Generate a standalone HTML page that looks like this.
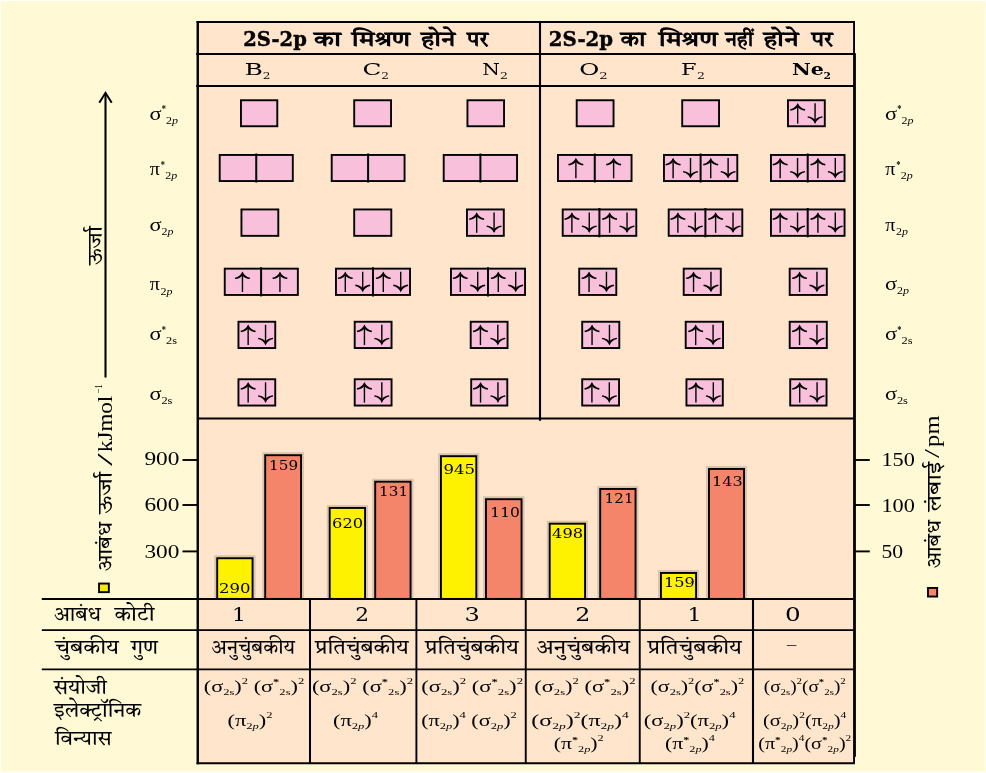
<!DOCTYPE html>
<html lang="hi"><head><meta charset="utf-8"><title>आण्विक कक्षक आरेख</title>
<style>html,body{margin:0;padding:0;background:#fffad5;}svg{display:block;}text{fill:#000000;}</style></head><body>
<svg width="986" height="773" viewBox="0 0 986 773">
<defs>
<g id="up"><path d="M0,-0.3 C1.2,3.0 4.0,5.2 7.6,6.0 L7.2,7.4 C4.3,7.0 1.6,5.9 0,3.7 C-1.6,5.9 -4.3,7.0 -7.2,7.4 L-7.6,6.0 C-4.0,5.2 -1.2,3.0 0,-0.3 Z" fill="#000000"/><line x1="0" y1="1" x2="0" y2="20.3" stroke="#000000" stroke-width="1.4"/></g>
<g id="dn"><g transform="translate(0,20.3) scale(1,-1)"><path d="M0,-0.3 C1.2,3.0 4.0,5.2 7.6,6.0 L7.2,7.4 C4.3,7.0 1.6,5.9 0,3.7 C-1.6,5.9 -4.3,7.0 -7.2,7.4 L-7.6,6.0 C-4.0,5.2 -1.2,3.0 0,-0.3 Z" fill="#000000"/><line x1="0" y1="1" x2="0" y2="20.3" stroke="#000000" stroke-width="1.4"/></g></g>
</defs>
<rect x="0" y="0" width="986" height="773" fill="#ffffff"/>
<rect x="0.7" y="1" width="984.7" height="770.8" fill="#fffad5"/>
<rect x="197.75" y="21.95" width="656.3" height="741.3" fill="#ffe5cb"/>
<rect x="240.95" y="100.25" width="36.35" height="26.00" fill="#f8c0da" stroke="#000000" stroke-width="1.9"/>
<rect x="354.20" y="100.25" width="36.85" height="26.00" fill="#f8c0da" stroke="#000000" stroke-width="1.9"/>
<rect x="467.45" y="100.25" width="36.60" height="26.00" fill="#f8c0da" stroke="#000000" stroke-width="1.9"/>
<rect x="576.70" y="100.25" width="36.85" height="26.00" fill="#f8c0da" stroke="#000000" stroke-width="1.9"/>
<rect x="682.20" y="100.25" width="36.85" height="26.00" fill="#f8c0da" stroke="#000000" stroke-width="1.9"/>
<rect x="787.95" y="100.25" width="36.85" height="26.00" fill="#f8c0da" stroke="#000000" stroke-width="1.9"/>
<use href="#up" x="797.67" y="103.30"/>
<use href="#dn" x="815.08" y="103.30"/>
<rect x="219.70" y="154.95" width="73.10" height="26.10" fill="#f8c0da" stroke="#000000" stroke-width="1.9"/>
<line x1="256.25" y1="153.5" x2="256.25" y2="182.5" stroke="#000000" stroke-width="2"/>
<rect x="331.70" y="154.95" width="72.85" height="26.10" fill="#f8c0da" stroke="#000000" stroke-width="1.9"/>
<line x1="368.1" y1="153.5" x2="368.1" y2="182.5" stroke="#000000" stroke-width="2"/>
<rect x="443.70" y="154.95" width="73.35" height="26.10" fill="#f8c0da" stroke="#000000" stroke-width="1.9"/>
<line x1="480.4" y1="153.5" x2="480.4" y2="182.5" stroke="#000000" stroke-width="2"/>
<rect x="557.95" y="154.95" width="73.60" height="26.10" fill="#f8c0da" stroke="#000000" stroke-width="1.9"/>
<line x1="594.75" y1="153.5" x2="594.75" y2="182.5" stroke="#000000" stroke-width="2"/>
<use href="#up" x="575.88" y="158.00"/>
<use href="#up" x="613.62" y="158.00"/>
<rect x="663.95" y="154.95" width="73.35" height="26.10" fill="#f8c0da" stroke="#000000" stroke-width="1.9"/>
<line x1="700.6" y1="153.5" x2="700.6" y2="182.5" stroke="#000000" stroke-width="2"/>
<use href="#up" x="673.10" y="158.00"/>
<use href="#dn" x="690.50" y="158.00"/>
<use href="#up" x="710.72" y="158.00"/>
<use href="#dn" x="728.12" y="158.00"/>
<rect x="770.95" y="154.95" width="73.60" height="26.10" fill="#f8c0da" stroke="#000000" stroke-width="1.9"/>
<line x1="807.7" y1="153.5" x2="807.7" y2="182.5" stroke="#000000" stroke-width="2"/>
<use href="#up" x="780.15" y="158.00"/>
<use href="#dn" x="797.55" y="158.00"/>
<use href="#up" x="817.90" y="158.00"/>
<use href="#dn" x="835.30" y="158.00"/>
<rect x="241.45" y="209.45" width="36.85" height="26.40" fill="#f8c0da" stroke="#000000" stroke-width="1.9"/>
<rect x="354.20" y="209.45" width="37.10" height="26.40" fill="#f8c0da" stroke="#000000" stroke-width="1.9"/>
<rect x="466.95" y="209.45" width="36.85" height="26.40" fill="#f8c0da" stroke="#000000" stroke-width="1.9"/>
<use href="#up" x="476.68" y="212.50"/>
<use href="#dn" x="494.07" y="212.50"/>
<rect x="562.70" y="209.45" width="73.60" height="26.40" fill="#f8c0da" stroke="#000000" stroke-width="1.9"/>
<line x1="599.4" y1="208.0" x2="599.4" y2="237.3" stroke="#000000" stroke-width="2"/>
<use href="#up" x="571.88" y="212.50"/>
<use href="#dn" x="589.28" y="212.50"/>
<use href="#up" x="609.62" y="212.50"/>
<use href="#dn" x="627.03" y="212.50"/>
<rect x="668.70" y="209.45" width="73.60" height="26.40" fill="#f8c0da" stroke="#000000" stroke-width="1.9"/>
<line x1="705.4" y1="208.0" x2="705.4" y2="237.3" stroke="#000000" stroke-width="2"/>
<use href="#up" x="677.88" y="212.50"/>
<use href="#dn" x="695.28" y="212.50"/>
<use href="#up" x="715.62" y="212.50"/>
<use href="#dn" x="733.03" y="212.50"/>
<rect x="770.95" y="209.45" width="73.60" height="26.40" fill="#f8c0da" stroke="#000000" stroke-width="1.9"/>
<line x1="807.7" y1="208.0" x2="807.7" y2="237.3" stroke="#000000" stroke-width="2"/>
<use href="#up" x="780.15" y="212.50"/>
<use href="#dn" x="797.55" y="212.50"/>
<use href="#up" x="817.90" y="212.50"/>
<use href="#dn" x="835.30" y="212.50"/>
<rect x="224.75" y="268.65" width="73.10" height="26.30" fill="#f8c0da" stroke="#000000" stroke-width="1.9"/>
<line x1="261.1" y1="267.2" x2="261.1" y2="296.4" stroke="#000000" stroke-width="2"/>
<use href="#up" x="242.45" y="271.70"/>
<use href="#up" x="279.95" y="271.70"/>
<rect x="335.95" y="268.65" width="74.10" height="26.30" fill="#f8c0da" stroke="#000000" stroke-width="1.9"/>
<line x1="373" y1="267.2" x2="373" y2="296.4" stroke="#000000" stroke-width="2"/>
<use href="#up" x="345.30" y="271.70"/>
<use href="#dn" x="362.70" y="271.70"/>
<use href="#up" x="383.30" y="271.70"/>
<use href="#dn" x="400.70" y="271.70"/>
<rect x="450.95" y="268.65" width="74.10" height="26.30" fill="#f8c0da" stroke="#000000" stroke-width="1.9"/>
<line x1="488" y1="267.2" x2="488" y2="296.4" stroke="#000000" stroke-width="2"/>
<use href="#up" x="460.30" y="271.70"/>
<use href="#dn" x="477.70" y="271.70"/>
<use href="#up" x="498.30" y="271.70"/>
<use href="#dn" x="515.70" y="271.70"/>
<rect x="579.20" y="268.65" width="37.10" height="26.30" fill="#f8c0da" stroke="#000000" stroke-width="1.9"/>
<use href="#up" x="589.05" y="271.70"/>
<use href="#dn" x="606.45" y="271.70"/>
<rect x="683.70" y="268.65" width="37.10" height="26.30" fill="#f8c0da" stroke="#000000" stroke-width="1.9"/>
<use href="#up" x="693.55" y="271.70"/>
<use href="#dn" x="710.95" y="271.70"/>
<rect x="789.70" y="268.65" width="37.10" height="26.30" fill="#f8c0da" stroke="#000000" stroke-width="1.9"/>
<use href="#up" x="799.55" y="271.70"/>
<use href="#dn" x="816.95" y="271.70"/>
<rect x="238.45" y="321.75" width="36.80" height="26.30" fill="#f8c0da" stroke="#000000" stroke-width="1.9"/>
<use href="#up" x="248.15" y="324.80"/>
<use href="#dn" x="265.55" y="324.80"/>
<rect x="354.70" y="321.75" width="36.85" height="26.30" fill="#f8c0da" stroke="#000000" stroke-width="1.9"/>
<use href="#up" x="364.43" y="324.80"/>
<use href="#dn" x="381.82" y="324.80"/>
<rect x="470.70" y="321.75" width="36.85" height="26.30" fill="#f8c0da" stroke="#000000" stroke-width="1.9"/>
<use href="#up" x="480.43" y="324.80"/>
<use href="#dn" x="497.82" y="324.80"/>
<rect x="582.20" y="321.75" width="37.10" height="26.30" fill="#f8c0da" stroke="#000000" stroke-width="1.9"/>
<use href="#up" x="592.05" y="324.80"/>
<use href="#dn" x="609.45" y="324.80"/>
<rect x="685.70" y="321.75" width="37.35" height="26.30" fill="#f8c0da" stroke="#000000" stroke-width="1.9"/>
<use href="#up" x="695.67" y="324.80"/>
<use href="#dn" x="713.08" y="324.80"/>
<rect x="789.70" y="321.75" width="37.10" height="26.30" fill="#f8c0da" stroke="#000000" stroke-width="1.9"/>
<use href="#up" x="799.55" y="324.80"/>
<use href="#dn" x="816.95" y="324.80"/>
<rect x="238.45" y="379.25" width="36.80" height="26.30" fill="#f8c0da" stroke="#000000" stroke-width="1.9"/>
<use href="#up" x="248.15" y="382.30"/>
<use href="#dn" x="265.55" y="382.30"/>
<rect x="354.70" y="379.25" width="36.85" height="26.30" fill="#f8c0da" stroke="#000000" stroke-width="1.9"/>
<use href="#up" x="364.43" y="382.30"/>
<use href="#dn" x="381.82" y="382.30"/>
<rect x="471.20" y="379.25" width="36.10" height="26.30" fill="#f8c0da" stroke="#000000" stroke-width="1.9"/>
<use href="#up" x="480.55" y="382.30"/>
<use href="#dn" x="497.95" y="382.30"/>
<rect x="582.20" y="379.25" width="36.85" height="26.30" fill="#f8c0da" stroke="#000000" stroke-width="1.9"/>
<use href="#up" x="591.92" y="382.30"/>
<use href="#dn" x="609.33" y="382.30"/>
<rect x="686.45" y="379.25" width="36.35" height="26.30" fill="#f8c0da" stroke="#000000" stroke-width="1.9"/>
<use href="#up" x="695.92" y="382.30"/>
<use href="#dn" x="713.33" y="382.30"/>
<rect x="790.20" y="379.25" width="36.35" height="26.30" fill="#f8c0da" stroke="#000000" stroke-width="1.9"/>
<use href="#up" x="799.67" y="382.30"/>
<use href="#dn" x="817.08" y="382.30"/>
<path d="M217.25,597.90 L217.25,558.30 L252.50,558.30 L252.50,597.90" fill="none" stroke="#2a2018" stroke-opacity="0.17" stroke-width="6.0"/>
<rect x="217.20" y="558.25" width="35.35" height="40.65" fill="#fff200" stroke="#000000" stroke-width="1.9"/>
<path d="M265.25,597.90 L265.25,455.25 L301.00,455.25 L301.00,597.90" fill="none" stroke="#2a2018" stroke-opacity="0.17" stroke-width="6.0"/>
<rect x="265.20" y="455.20" width="35.85" height="143.70" fill="#f4856a" stroke="#000000" stroke-width="1.9"/>
<path d="M329.75,597.90 L329.75,508.00 L365.00,508.00 L365.00,597.90" fill="none" stroke="#2a2018" stroke-opacity="0.17" stroke-width="6.0"/>
<rect x="329.70" y="507.95" width="35.35" height="90.95" fill="#fff200" stroke="#000000" stroke-width="1.9"/>
<path d="M375.25,597.90 L375.25,481.75 L410.50,481.75 L410.50,597.90" fill="none" stroke="#2a2018" stroke-opacity="0.17" stroke-width="6.0"/>
<rect x="375.20" y="481.70" width="35.35" height="117.20" fill="#f4856a" stroke="#000000" stroke-width="1.9"/>
<path d="M441.00,597.90 L441.00,456.25 L476.25,456.25 L476.25,597.90" fill="none" stroke="#2a2018" stroke-opacity="0.17" stroke-width="6.0"/>
<rect x="440.95" y="456.20" width="35.35" height="142.70" fill="#fff200" stroke="#000000" stroke-width="1.9"/>
<path d="M486.00,597.90 L486.00,499.25 L521.50,499.25 L521.50,597.90" fill="none" stroke="#2a2018" stroke-opacity="0.17" stroke-width="6.0"/>
<rect x="485.95" y="499.20" width="35.60" height="99.70" fill="#f4856a" stroke="#000000" stroke-width="1.9"/>
<path d="M549.75,597.90 L549.75,523.75 L585.00,523.75 L585.00,597.90" fill="none" stroke="#2a2018" stroke-opacity="0.17" stroke-width="6.0"/>
<rect x="549.70" y="523.70" width="35.35" height="75.20" fill="#fff200" stroke="#000000" stroke-width="1.9"/>
<path d="M600.25,597.90 L600.25,489.00 L635.50,489.00 L635.50,597.90" fill="none" stroke="#2a2018" stroke-opacity="0.17" stroke-width="6.0"/>
<rect x="600.20" y="488.95" width="35.35" height="109.95" fill="#f4856a" stroke="#000000" stroke-width="1.9"/>
<path d="M661.00,597.90 L661.00,573.00 L696.00,573.00 L696.00,597.90" fill="none" stroke="#2a2018" stroke-opacity="0.17" stroke-width="6.0"/>
<rect x="660.95" y="572.95" width="35.10" height="25.95" fill="#fff200" stroke="#000000" stroke-width="1.9"/>
<path d="M709.00,597.90 L709.00,469.00 L744.00,469.00 L744.00,597.90" fill="none" stroke="#2a2018" stroke-opacity="0.17" stroke-width="6.0"/>
<rect x="708.95" y="468.95" width="35.10" height="129.95" fill="#f4856a" stroke="#000000" stroke-width="1.9"/>
<text x="219.10" y="593.40" font-size="12.7" font-family="'DejaVu Serif','Liberation Serif',serif" textLength="31.50" lengthAdjust="spacingAndGlyphs">290</text>
<text x="269.10" y="469.60" font-size="12.7" font-family="'DejaVu Serif','Liberation Serif',serif" textLength="29.00" lengthAdjust="spacingAndGlyphs">159</text>
<text x="332.10" y="527.60" font-size="12.7" font-family="'DejaVu Serif','Liberation Serif',serif" textLength="31.00" lengthAdjust="spacingAndGlyphs">620</text>
<text x="379.10" y="496.40" font-size="12.7" font-family="'DejaVu Serif','Liberation Serif',serif" textLength="29.00" lengthAdjust="spacingAndGlyphs">131</text>
<text x="443.60" y="473.85" font-size="12.7" font-family="'DejaVu Serif','Liberation Serif',serif" textLength="31.50" lengthAdjust="spacingAndGlyphs">945</text>
<text x="490.35" y="517.10" font-size="12.7" font-family="'DejaVu Serif','Liberation Serif',serif" textLength="29.50" lengthAdjust="spacingAndGlyphs">110</text>
<text x="552.10" y="537.60" font-size="12.7" font-family="'DejaVu Serif','Liberation Serif',serif" textLength="31.00" lengthAdjust="spacingAndGlyphs">498</text>
<text x="604.60" y="502.60" font-size="12.7" font-family="'DejaVu Serif','Liberation Serif',serif" textLength="29.00" lengthAdjust="spacingAndGlyphs">121</text>
<text x="664.10" y="587.10" font-size="12.7" font-family="'DejaVu Serif','Liberation Serif',serif" textLength="30.75" lengthAdjust="spacingAndGlyphs">159</text>
<text x="712.10" y="486.35" font-size="12.7" font-family="'DejaVu Serif','Liberation Serif',serif" textLength="30.50" lengthAdjust="spacingAndGlyphs">143</text>
<line x1="197.75" y1="20.95" x2="197.75" y2="764.25" stroke="#000000" stroke-width="2.4"/>
<line x1="196.55" y1="21.95" x2="855.0" y2="21.95" stroke="#000000" stroke-width="1.9"/>
<line x1="196.55" y1="763.25" x2="854.9" y2="763.25" stroke="#000000" stroke-width="2.0"/>
<line x1="854.05" y1="21.95" x2="854.05" y2="763.25" stroke="#000000" stroke-width="1.9"/>
<rect x="854.9" y="53.2" width="1.0" height="703.6" fill="#000000"/>
<line x1="196.25" y1="53.9" x2="854.05" y2="53.9" stroke="#000000" stroke-width="2.0"/>
<line x1="196.25" y1="86.0" x2="854.05" y2="86.0" stroke="#000000" stroke-width="1.9"/>
<line x1="197.75" y1="418.4" x2="854.05" y2="418.4" stroke="#000000" stroke-width="2.0"/>
<line x1="41.8" y1="598.9" x2="854.05" y2="598.9" stroke="#000000" stroke-width="2.0"/>
<line x1="41.8" y1="630.2" x2="854.05" y2="630.2" stroke="#000000" stroke-width="1.8"/>
<line x1="41.8" y1="669.3" x2="854.05" y2="669.3" stroke="#000000" stroke-width="1.8"/>
<line x1="540.0" y1="21.95" x2="540.0" y2="420.7" stroke="#000000" stroke-width="2.1"/>
<line x1="310.0" y1="598.9" x2="310.0" y2="763.25" stroke="#000000" stroke-width="2.0"/>
<line x1="416.4" y1="598.9" x2="416.4" y2="763.25" stroke="#000000" stroke-width="1.9"/>
<line x1="525.75" y1="598.9" x2="525.75" y2="763.25" stroke="#000000" stroke-width="1.9"/>
<line x1="639.75" y1="598.9" x2="639.75" y2="763.25" stroke="#000000" stroke-width="1.9"/>
<line x1="753.0" y1="598.9" x2="753.0" y2="763.25" stroke="#000000" stroke-width="2.1"/>
<line x1="182.5" y1="460.0" x2="197.75" y2="460.0" stroke="#000000" stroke-width="1.9"/>
<line x1="854.05" y1="460.0" x2="869.8" y2="460.0" stroke="#000000" stroke-width="1.9"/>
<line x1="182.5" y1="505.0" x2="197.75" y2="505.0" stroke="#000000" stroke-width="1.9"/>
<line x1="854.05" y1="505.0" x2="869.8" y2="505.0" stroke="#000000" stroke-width="1.9"/>
<line x1="182.5" y1="551.4" x2="197.75" y2="551.4" stroke="#000000" stroke-width="1.9"/>
<line x1="854.05" y1="551.4" x2="869.8" y2="551.4" stroke="#000000" stroke-width="1.9"/>
<line x1="105.5" y1="93.5" x2="105.5" y2="377.4" stroke="#000000" stroke-width="2.1"/>
<path d="M99.3,102.8 L105.5,92.8 L111.7,102.8" fill="none" stroke="#000000" stroke-width="2.0" stroke-linejoin="miter"/>
<text x="243.20" y="45.80" font-size="20" font-family="'DejaVu Serif','Liberation Serif',serif" font-weight="bold" textLength="63.60" lengthAdjust="spacingAndGlyphs" stroke="#000000" stroke-width="0.45">2S-2p</text>
<text x="314.00" y="46.40" font-size="21" font-family="'Liberation Serif','Tiro Devanagari Hindi','Noto Serif Devanagari','Lohit Devanagari','FreeSerif',serif" font-weight="bold" textLength="27.00" lengthAdjust="spacingAndGlyphs">का</text>
<text x="351.80" y="46.40" font-size="21" font-family="'Liberation Serif','Tiro Devanagari Hindi','Noto Serif Devanagari','Lohit Devanagari','FreeSerif',serif" font-weight="bold" textLength="58.40" lengthAdjust="spacingAndGlyphs">मिश्रण</text>
<text x="421.00" y="46.40" font-size="21" font-family="'Liberation Serif','Tiro Devanagari Hindi','Noto Serif Devanagari','Lohit Devanagari','FreeSerif',serif" font-weight="bold" textLength="34.20" lengthAdjust="spacingAndGlyphs">होने</text>
<text x="467.00" y="46.40" font-size="21" font-family="'Liberation Serif','Tiro Devanagari Hindi','Noto Serif Devanagari','Lohit Devanagari','FreeSerif',serif" font-weight="bold" textLength="21.20" lengthAdjust="spacingAndGlyphs">पर</text>
<text x="548.80" y="45.80" font-size="20" font-family="'DejaVu Serif','Liberation Serif',serif" font-weight="bold" textLength="64.20" lengthAdjust="spacingAndGlyphs" stroke="#000000" stroke-width="0.45">2S-2p</text>
<text x="620.40" y="46.40" font-size="21" font-family="'Liberation Serif','Tiro Devanagari Hindi','Noto Serif Devanagari','Lohit Devanagari','FreeSerif',serif" font-weight="bold" textLength="25.20" lengthAdjust="spacingAndGlyphs">का</text>
<text x="658.80" y="46.40" font-size="21" font-family="'Liberation Serif','Tiro Devanagari Hindi','Noto Serif Devanagari','Lohit Devanagari','FreeSerif',serif" font-weight="bold" textLength="58.80" lengthAdjust="spacingAndGlyphs">मिश्रण</text>
<text x="725.20" y="46.40" font-size="21" font-family="'Liberation Serif','Tiro Devanagari Hindi','Noto Serif Devanagari','Lohit Devanagari','FreeSerif',serif" font-weight="bold" textLength="28.00" lengthAdjust="spacingAndGlyphs">नहीं</text>
<text x="763.40" y="46.40" font-size="21" font-family="'Liberation Serif','Tiro Devanagari Hindi','Noto Serif Devanagari','Lohit Devanagari','FreeSerif',serif" font-weight="bold" textLength="35.20" lengthAdjust="spacingAndGlyphs">होने</text>
<text x="811.40" y="46.40" font-size="21" font-family="'Liberation Serif','Tiro Devanagari Hindi','Noto Serif Devanagari','Lohit Devanagari','FreeSerif',serif" font-weight="bold" textLength="21.40" lengthAdjust="spacingAndGlyphs">पर</text>
<text x="244.40" y="75.30" font-size="17.5" font-family="'DejaVu Serif','Liberation Serif',serif" textLength="18.40" lengthAdjust="spacingAndGlyphs">B</text>
<text x="262.70" y="78.90" font-size="9" font-family="'DejaVu Serif','Liberation Serif',serif" textLength="7.70" lengthAdjust="spacingAndGlyphs">2</text>
<text x="362.60" y="75.30" font-size="17.5" font-family="'DejaVu Serif','Liberation Serif',serif" textLength="18.90" lengthAdjust="spacingAndGlyphs">C</text>
<text x="381.30" y="78.90" font-size="9" font-family="'DejaVu Serif','Liberation Serif',serif" textLength="7.70" lengthAdjust="spacingAndGlyphs">2</text>
<text x="482.20" y="75.30" font-size="17.5" font-family="'DejaVu Serif','Liberation Serif',serif" textLength="17.60" lengthAdjust="spacingAndGlyphs">N</text>
<text x="499.90" y="78.90" font-size="9" font-family="'DejaVu Serif','Liberation Serif',serif" textLength="7.90" lengthAdjust="spacingAndGlyphs">2</text>
<text x="579.30" y="75.30" font-size="17.5" font-family="'DejaVu Serif','Liberation Serif',serif" textLength="20.10" lengthAdjust="spacingAndGlyphs">O</text>
<text x="599.30" y="78.90" font-size="9" font-family="'DejaVu Serif','Liberation Serif',serif" textLength="8.40" lengthAdjust="spacingAndGlyphs">2</text>
<text x="681.00" y="75.30" font-size="17.5" font-family="'DejaVu Serif','Liberation Serif',serif" textLength="15.60" lengthAdjust="spacingAndGlyphs">F</text>
<text x="696.90" y="78.90" font-size="9" font-family="'DejaVu Serif','Liberation Serif',serif" textLength="7.90" lengthAdjust="spacingAndGlyphs">2</text>
<text x="792.00" y="75.30" font-size="17.5" font-family="'DejaVu Serif','Liberation Serif',serif" font-weight="bold" textLength="31.90" lengthAdjust="spacingAndGlyphs">Ne</text>
<text x="823.50" y="78.90" font-size="9" font-family="'DejaVu Serif','Liberation Serif',serif" font-weight="bold" textLength="7.40" lengthAdjust="spacingAndGlyphs">2</text>
<text x="149.60" y="119.60" font-size="18" font-family="'Liberation Serif','DejaVu Serif',serif" textLength="12.10" lengthAdjust="spacingAndGlyphs">σ</text>
<text x="161.70" y="112.40" font-size="10" font-family="'Liberation Serif','DejaVu Serif',serif" font-weight="bold" textLength="4.20" lengthAdjust="spacingAndGlyphs">*</text>
<text x="166.10" y="123.60" font-size="10.5" font-family="'Liberation Serif','DejaVu Serif',serif" textLength="12.0" lengthAdjust="spacingAndGlyphs">2<tspan font-style="italic">p</tspan></text>
<text x="149.70" y="175.00" font-size="18" font-family="'Liberation Serif','DejaVu Serif',serif" textLength="10.10" lengthAdjust="spacingAndGlyphs">π</text>
<text x="160.80" y="167.80" font-size="10" font-family="'Liberation Serif','DejaVu Serif',serif" font-weight="bold" textLength="4.20" lengthAdjust="spacingAndGlyphs">*</text>
<text x="165.20" y="179.00" font-size="10.5" font-family="'Liberation Serif','DejaVu Serif',serif" textLength="12.0" lengthAdjust="spacingAndGlyphs">2<tspan font-style="italic">p</tspan></text>
<text x="149.60" y="230.60" font-size="18" font-family="'Liberation Serif','DejaVu Serif',serif" textLength="12.10" lengthAdjust="spacingAndGlyphs">σ</text>
<text x="161.40" y="235.00" font-size="10.5" font-family="'Liberation Serif','DejaVu Serif',serif" textLength="12.0" lengthAdjust="spacingAndGlyphs">2<tspan font-style="italic">p</tspan></text>
<text x="149.70" y="290.10" font-size="18" font-family="'Liberation Serif','DejaVu Serif',serif" textLength="10.10" lengthAdjust="spacingAndGlyphs">π</text>
<text x="160.50" y="294.50" font-size="10.5" font-family="'Liberation Serif','DejaVu Serif',serif" textLength="12.0" lengthAdjust="spacingAndGlyphs">2<tspan font-style="italic">p</tspan></text>
<text x="149.60" y="340.10" font-size="18" font-family="'Liberation Serif','DejaVu Serif',serif" textLength="12.10" lengthAdjust="spacingAndGlyphs">σ</text>
<text x="161.70" y="332.90" font-size="10" font-family="'Liberation Serif','DejaVu Serif',serif" font-weight="bold" textLength="4.20" lengthAdjust="spacingAndGlyphs">*</text>
<text x="166.10" y="344.10" font-size="10.5" font-family="'Liberation Serif','DejaVu Serif',serif" textLength="11.00" lengthAdjust="spacingAndGlyphs">2s</text>
<text x="149.60" y="399.70" font-size="18" font-family="'Liberation Serif','DejaVu Serif',serif" textLength="12.10" lengthAdjust="spacingAndGlyphs">σ</text>
<text x="161.40" y="404.10" font-size="10.5" font-family="'Liberation Serif','DejaVu Serif',serif" textLength="11.00" lengthAdjust="spacingAndGlyphs">2s</text>
<text x="885.10" y="119.60" font-size="18" font-family="'Liberation Serif','DejaVu Serif',serif" textLength="12.10" lengthAdjust="spacingAndGlyphs">σ</text>
<text x="897.20" y="112.40" font-size="10" font-family="'Liberation Serif','DejaVu Serif',serif" font-weight="bold" textLength="4.20" lengthAdjust="spacingAndGlyphs">*</text>
<text x="901.60" y="123.60" font-size="10.5" font-family="'Liberation Serif','DejaVu Serif',serif" textLength="12.0" lengthAdjust="spacingAndGlyphs">2<tspan font-style="italic">p</tspan></text>
<text x="885.20" y="175.00" font-size="18" font-family="'Liberation Serif','DejaVu Serif',serif" textLength="10.10" lengthAdjust="spacingAndGlyphs">π</text>
<text x="896.30" y="167.80" font-size="10" font-family="'Liberation Serif','DejaVu Serif',serif" font-weight="bold" textLength="4.20" lengthAdjust="spacingAndGlyphs">*</text>
<text x="900.70" y="179.00" font-size="10.5" font-family="'Liberation Serif','DejaVu Serif',serif" textLength="12.0" lengthAdjust="spacingAndGlyphs">2<tspan font-style="italic">p</tspan></text>
<text x="885.20" y="230.70" font-size="18" font-family="'Liberation Serif','DejaVu Serif',serif" textLength="10.10" lengthAdjust="spacingAndGlyphs">π</text>
<text x="896.00" y="235.10" font-size="10.5" font-family="'Liberation Serif','DejaVu Serif',serif" textLength="12.0" lengthAdjust="spacingAndGlyphs">2<tspan font-style="italic">p</tspan></text>
<text x="885.10" y="290.00" font-size="18" font-family="'Liberation Serif','DejaVu Serif',serif" textLength="12.10" lengthAdjust="spacingAndGlyphs">σ</text>
<text x="896.90" y="294.40" font-size="10.5" font-family="'Liberation Serif','DejaVu Serif',serif" textLength="12.0" lengthAdjust="spacingAndGlyphs">2<tspan font-style="italic">p</tspan></text>
<text x="885.10" y="340.20" font-size="18" font-family="'Liberation Serif','DejaVu Serif',serif" textLength="12.10" lengthAdjust="spacingAndGlyphs">σ</text>
<text x="897.20" y="333.00" font-size="10" font-family="'Liberation Serif','DejaVu Serif',serif" font-weight="bold" textLength="4.20" lengthAdjust="spacingAndGlyphs">*</text>
<text x="901.60" y="344.20" font-size="10.5" font-family="'Liberation Serif','DejaVu Serif',serif" textLength="11.00" lengthAdjust="spacingAndGlyphs">2s</text>
<text x="885.10" y="399.60" font-size="18" font-family="'Liberation Serif','DejaVu Serif',serif" textLength="12.10" lengthAdjust="spacingAndGlyphs">σ</text>
<text x="896.90" y="404.00" font-size="10.5" font-family="'Liberation Serif','DejaVu Serif',serif" textLength="11.00" lengthAdjust="spacingAndGlyphs">2s</text>
<text x="144.40" y="464.90" font-size="19" font-family="'Liberation Serif','DejaVu Serif',serif" textLength="35.00" lengthAdjust="spacingAndGlyphs">900</text>
<text x="144.40" y="511.30" font-size="19" font-family="'Liberation Serif','DejaVu Serif',serif" textLength="35.00" lengthAdjust="spacingAndGlyphs">600</text>
<text x="144.40" y="557.90" font-size="19" font-family="'Liberation Serif','DejaVu Serif',serif" textLength="35.00" lengthAdjust="spacingAndGlyphs">300</text>
<text x="881.40" y="465.90" font-size="19" font-family="'Liberation Serif','DejaVu Serif',serif" textLength="33.40" lengthAdjust="spacingAndGlyphs">150</text>
<text x="881.40" y="512.10" font-size="19" font-family="'Liberation Serif','DejaVu Serif',serif" textLength="33.40" lengthAdjust="spacingAndGlyphs">100</text>
<text x="881.40" y="558.30" font-size="19" font-family="'Liberation Serif','DejaVu Serif',serif" textLength="21.60" lengthAdjust="spacingAndGlyphs">50</text>
<g transform="translate(102.3,265.2) rotate(-90)">
<text x="0.00" y="0.00" font-size="20" font-family="'Liberation Serif','Tiro Devanagari Hindi','Noto Serif Devanagari','Lohit Devanagari','FreeSerif',serif" textLength="39.00" lengthAdjust="spacingAndGlyphs">ऊर्जा</text>
</g>
<g transform="translate(111.8,571.5) rotate(-90)">
<text x="0.00" y="0.60" font-size="20" font-family="'Liberation Serif','Tiro Devanagari Hindi','Noto Serif Devanagari','Lohit Devanagari','FreeSerif',serif" textLength="49.70" lengthAdjust="spacingAndGlyphs">आबंध</text>
<text x="57.50" y="0.60" font-size="20" font-family="'Liberation Serif','Tiro Devanagari Hindi','Noto Serif Devanagari','Lohit Devanagari','FreeSerif',serif" textLength="42.20" lengthAdjust="spacingAndGlyphs">ऊर्जा</text>
<text x="105.60" y="0.00" font-size="20" font-family="'Liberation Serif','DejaVu Serif',serif" textLength="12.80" lengthAdjust="spacingAndGlyphs">/</text>
<text x="119.40" y="0.00" font-size="20" font-family="'Liberation Serif','DejaVu Serif',serif" textLength="56.40" lengthAdjust="spacingAndGlyphs">kJmol</text>
<text x="178.30" y="-9.60" font-size="10" font-family="'Liberation Serif','DejaVu Serif',serif" textLength="8.90" lengthAdjust="spacingAndGlyphs">−1</text>
</g>
<rect x="99.05" y="583.55" width="9.8" height="8.6" fill="#f8ea00" stroke="#000000" stroke-width="1.9"/>
<g transform="translate(939.3,568.5) rotate(-90)">
<text x="0.00" y="1.80" font-size="20" font-family="'Liberation Serif','Tiro Devanagari Hindi','Noto Serif Devanagari','Lohit Devanagari','FreeSerif',serif" textLength="48.60" lengthAdjust="spacingAndGlyphs">आबंध</text>
<text x="57.00" y="1.80" font-size="20" font-family="'Liberation Serif','Tiro Devanagari Hindi','Noto Serif Devanagari','Lohit Devanagari','FreeSerif',serif" textLength="50.00" lengthAdjust="spacingAndGlyphs">लंबाई</text>
<text x="110.60" y="0.00" font-size="20" font-family="'Liberation Serif','DejaVu Serif',serif" textLength="9.00" lengthAdjust="spacingAndGlyphs">/</text>
<text x="121.60" y="0.00" font-size="20" font-family="'Liberation Serif','DejaVu Serif',serif" textLength="31.40" lengthAdjust="spacingAndGlyphs">pm</text>
</g>
<rect x="928.0" y="587.95" width="9.15" height="8.6" fill="#f5866a" stroke="#000000" stroke-width="1.9"/>
<text x="53.70" y="620.80" font-size="20" font-family="'Liberation Serif','Tiro Devanagari Hindi','Noto Serif Devanagari','Lohit Devanagari','FreeSerif',serif" textLength="47.30" lengthAdjust="spacingAndGlyphs">आबंध</text>
<text x="114.50" y="620.80" font-size="20" font-family="'Liberation Serif','Tiro Devanagari Hindi','Noto Serif Devanagari','Lohit Devanagari','FreeSerif',serif" textLength="40.00" lengthAdjust="spacingAndGlyphs">कोटी</text>
<text x="54.90" y="653.50" font-size="20" font-family="'Liberation Serif','Tiro Devanagari Hindi','Noto Serif Devanagari','Lohit Devanagari','FreeSerif',serif" textLength="64.10" lengthAdjust="spacingAndGlyphs">चुंबकीय</text>
<text x="130.70" y="653.50" font-size="20" font-family="'Liberation Serif','Tiro Devanagari Hindi','Noto Serif Devanagari','Lohit Devanagari','FreeSerif',serif" textLength="27.30" lengthAdjust="spacingAndGlyphs">गुण</text>
<text x="53.70" y="694.20" font-size="20" font-family="'Liberation Serif','Tiro Devanagari Hindi','Noto Serif Devanagari','Lohit Devanagari','FreeSerif',serif" textLength="53.30" lengthAdjust="spacingAndGlyphs">संयोजी</text>
<text x="53.70" y="716.90" font-size="20" font-family="'Liberation Serif','Tiro Devanagari Hindi','Noto Serif Devanagari','Lohit Devanagari','FreeSerif',serif" textLength="87.60" lengthAdjust="spacingAndGlyphs">इलेक्ट्रॉनिक</text>
<text x="54.90" y="745.10" font-size="20" font-family="'Liberation Serif','Tiro Devanagari Hindi','Noto Serif Devanagari','Lohit Devanagari','FreeSerif',serif" textLength="56.80" lengthAdjust="spacingAndGlyphs">विन्यास</text>
<text x="232.00" y="620.50" font-size="18.6" font-family="'DejaVu Serif','Liberation Serif',serif" textLength="14.00" lengthAdjust="spacingAndGlyphs">1</text>
<text x="355.20" y="620.50" font-size="18.6" font-family="'DejaVu Serif','Liberation Serif',serif" textLength="13.80" lengthAdjust="spacingAndGlyphs">2</text>
<text x="464.50" y="620.50" font-size="18.6" font-family="'DejaVu Serif','Liberation Serif',serif" textLength="15.30" lengthAdjust="spacingAndGlyphs">3</text>
<text x="575.20" y="620.50" font-size="18.6" font-family="'DejaVu Serif','Liberation Serif',serif" textLength="15.10" lengthAdjust="spacingAndGlyphs">2</text>
<text x="687.50" y="620.50" font-size="18.6" font-family="'DejaVu Serif','Liberation Serif',serif" textLength="14.00" lengthAdjust="spacingAndGlyphs">1</text>
<text x="785.00" y="620.50" font-size="18.6" font-family="'DejaVu Serif','Liberation Serif',serif" textLength="15.70" lengthAdjust="spacingAndGlyphs">0</text>
<text x="211.25" y="653.80" font-size="20" font-family="'Liberation Serif','Tiro Devanagari Hindi','Noto Serif Devanagari','Lohit Devanagari','FreeSerif',serif" textLength="83.75" lengthAdjust="spacingAndGlyphs">अनुचुंबकीय</text>
<text x="315.00" y="653.80" font-size="20" font-family="'Liberation Serif','Tiro Devanagari Hindi','Noto Serif Devanagari','Lohit Devanagari','FreeSerif',serif" textLength="93.75" lengthAdjust="spacingAndGlyphs">प्रतिचुंबकीय</text>
<text x="425.00" y="653.80" font-size="20" font-family="'Liberation Serif','Tiro Devanagari Hindi','Noto Serif Devanagari','Lohit Devanagari','FreeSerif',serif" textLength="93.75" lengthAdjust="spacingAndGlyphs">प्रतिचुंबकीय</text>
<text x="536.25" y="653.80" font-size="20" font-family="'Liberation Serif','Tiro Devanagari Hindi','Noto Serif Devanagari','Lohit Devanagari','FreeSerif',serif" textLength="93.75" lengthAdjust="spacingAndGlyphs">अनुचुंबकीय</text>
<text x="647.50" y="653.80" font-size="20" font-family="'Liberation Serif','Tiro Devanagari Hindi','Noto Serif Devanagari','Lohit Devanagari','FreeSerif',serif" textLength="94.25" lengthAdjust="spacingAndGlyphs">प्रतिचुंबकीय</text>
<text x="787.00" y="648.50" font-size="14" font-family="'Liberation Serif','DejaVu Serif',serif" textLength="9.30" lengthAdjust="spacingAndGlyphs">–</text>
<text x="203.75" y="691.90" font-size="16" font-family="'Liberation Serif','DejaVu Serif',serif" textLength="100.50" lengthAdjust="spacingAndGlyphs"><tspan dy="0.0">(σ</tspan><tspan dy="3.2" font-size="9">2</tspan><tspan dy="0.0" font-size="9">s</tspan><tspan dy="-3.2">)</tspan><tspan dy="-8.2" font-size="9">2</tspan><tspan dy="8.2"> </tspan><tspan dy="0.0">(σ</tspan><tspan dy="-6.5" font-size="9" font-weight="bold">*</tspan><tspan dy="9.7" font-size="9">2</tspan><tspan dy="0.0" font-size="9">s</tspan><tspan dy="-3.2">)</tspan><tspan dy="-8.2" font-size="9">2</tspan></text>
<text x="227.50" y="725.90" font-size="16" font-family="'Liberation Serif','DejaVu Serif',serif" textLength="45.00" lengthAdjust="spacingAndGlyphs"><tspan dy="0.0">(π</tspan><tspan dy="3.2" font-size="9">2</tspan><tspan dy="0.0" font-size="9" font-style="italic">p</tspan><tspan dy="-3.2">)</tspan><tspan dy="-8.2" font-size="9">2</tspan></text>
<text x="311.90" y="691.90" font-size="16" font-family="'Liberation Serif','DejaVu Serif',serif" textLength="101.30" lengthAdjust="spacingAndGlyphs"><tspan dy="0.0">(σ</tspan><tspan dy="3.2" font-size="9">2</tspan><tspan dy="0.0" font-size="9">s</tspan><tspan dy="-3.2">)</tspan><tspan dy="-8.2" font-size="9">2</tspan><tspan dy="8.2"> </tspan><tspan dy="0.0">(σ</tspan><tspan dy="-6.5" font-size="9" font-weight="bold">*</tspan><tspan dy="9.7" font-size="9">2</tspan><tspan dy="0.0" font-size="9">s</tspan><tspan dy="-3.2">)</tspan><tspan dy="-8.2" font-size="9">2</tspan></text>
<text x="333.00" y="725.90" font-size="16" font-family="'Liberation Serif','DejaVu Serif',serif" textLength="45.00" lengthAdjust="spacingAndGlyphs"><tspan dy="0.0">(π</tspan><tspan dy="3.2" font-size="9">2</tspan><tspan dy="0.0" font-size="9" font-style="italic">p</tspan><tspan dy="-3.2">)</tspan><tspan dy="-8.2" font-size="9">4</tspan></text>
<text x="421.25" y="691.90" font-size="16" font-family="'Liberation Serif','DejaVu Serif',serif" textLength="101.75" lengthAdjust="spacingAndGlyphs"><tspan dy="0.0">(σ</tspan><tspan dy="3.2" font-size="9">2</tspan><tspan dy="0.0" font-size="9">s</tspan><tspan dy="-3.2">)</tspan><tspan dy="-8.2" font-size="9">2</tspan><tspan dy="8.2"> </tspan><tspan dy="0.0">(σ</tspan><tspan dy="-6.5" font-size="9" font-weight="bold">*</tspan><tspan dy="9.7" font-size="9">2</tspan><tspan dy="0.0" font-size="9">s</tspan><tspan dy="-3.2">)</tspan><tspan dy="-8.2" font-size="9">2</tspan></text>
<text x="421.25" y="725.90" font-size="16" font-family="'Liberation Serif','DejaVu Serif',serif" textLength="95.50" lengthAdjust="spacingAndGlyphs"><tspan dy="0.0">(π</tspan><tspan dy="3.2" font-size="9">2</tspan><tspan dy="0.0" font-size="9" font-style="italic">p</tspan><tspan dy="-3.2">)</tspan><tspan dy="-8.2" font-size="9">4</tspan><tspan dy="8.2"> </tspan><tspan dy="0.0">(σ</tspan><tspan dy="3.2" font-size="9">2</tspan><tspan dy="0.0" font-size="9" font-style="italic">p</tspan><tspan dy="-3.2">)</tspan><tspan dy="-8.2" font-size="9">2</tspan></text>
<text x="534.25" y="691.90" font-size="16" font-family="'Liberation Serif','DejaVu Serif',serif" textLength="101.25" lengthAdjust="spacingAndGlyphs"><tspan dy="0.0">(σ</tspan><tspan dy="3.2" font-size="9">2</tspan><tspan dy="0.0" font-size="9">s</tspan><tspan dy="-3.2">)</tspan><tspan dy="-8.2" font-size="9">2</tspan><tspan dy="8.2"> </tspan><tspan dy="0.0">(σ</tspan><tspan dy="-6.5" font-size="9" font-weight="bold">*</tspan><tspan dy="9.7" font-size="9">2</tspan><tspan dy="0.0" font-size="9">s</tspan><tspan dy="-3.2">)</tspan><tspan dy="-8.2" font-size="9">2</tspan></text>
<text x="531.25" y="725.90" font-size="16" font-family="'Liberation Serif','DejaVu Serif',serif" textLength="97.50" lengthAdjust="spacingAndGlyphs"><tspan dy="0.0">(σ</tspan><tspan dy="3.2" font-size="9">2</tspan><tspan dy="0.0" font-size="9" font-style="italic">p</tspan><tspan dy="-3.2">)</tspan><tspan dy="-8.2" font-size="9">2</tspan><tspan dy="8.2">(π</tspan><tspan dy="3.2" font-size="9">2</tspan><tspan dy="0.0" font-size="9" font-style="italic">p</tspan><tspan dy="-3.2">)</tspan><tspan dy="-8.2" font-size="9">4</tspan></text>
<text x="553.75" y="749.20" font-size="16" font-family="'Liberation Serif','DejaVu Serif',serif" textLength="50.00" lengthAdjust="spacingAndGlyphs"><tspan dy="0.0">(π</tspan><tspan dy="-6.5" font-size="9" font-weight="bold">*</tspan><tspan dy="9.7" font-size="9">2</tspan><tspan dy="0.0" font-size="9" font-style="italic">p</tspan><tspan dy="-3.2">)</tspan><tspan dy="-8.2" font-size="9">2</tspan></text>
<text x="650.50" y="691.90" font-size="16" font-family="'Liberation Serif','DejaVu Serif',serif" textLength="93.75" lengthAdjust="spacingAndGlyphs"><tspan dy="0.0">(σ</tspan><tspan dy="3.2" font-size="9">2</tspan><tspan dy="0.0" font-size="9">s</tspan><tspan dy="-3.2">)</tspan><tspan dy="-8.2" font-size="9">2</tspan><tspan dy="8.2">(σ</tspan><tspan dy="-6.5" font-size="9" font-weight="bold">*</tspan><tspan dy="9.7" font-size="9">2</tspan><tspan dy="0.0" font-size="9">s</tspan><tspan dy="-3.2">)</tspan><tspan dy="-8.2" font-size="9">2</tspan></text>
<text x="643.75" y="725.90" font-size="16" font-family="'Liberation Serif','DejaVu Serif',serif" textLength="91.75" lengthAdjust="spacingAndGlyphs"><tspan dy="0.0">(σ</tspan><tspan dy="3.2" font-size="9">2</tspan><tspan dy="0.0" font-size="9" font-style="italic">p</tspan><tspan dy="-3.2">)</tspan><tspan dy="-8.2" font-size="9">2</tspan><tspan dy="8.2">(π</tspan><tspan dy="3.2" font-size="9">2</tspan><tspan dy="0.0" font-size="9" font-style="italic">p</tspan><tspan dy="-3.2">)</tspan><tspan dy="-8.2" font-size="9">4</tspan></text>
<text x="665.00" y="749.20" font-size="16" font-family="'Liberation Serif','DejaVu Serif',serif" textLength="50.00" lengthAdjust="spacingAndGlyphs"><tspan dy="0.0">(π</tspan><tspan dy="-6.5" font-size="9" font-weight="bold">*</tspan><tspan dy="9.7" font-size="9">2</tspan><tspan dy="0.0" font-size="9" font-style="italic">p</tspan><tspan dy="-3.2">)</tspan><tspan dy="-8.2" font-size="9">4</tspan></text>
<text x="763.75" y="691.90" font-size="16" font-family="'Liberation Serif','DejaVu Serif',serif" textLength="82.00" lengthAdjust="spacingAndGlyphs"><tspan dy="0.0">(σ</tspan><tspan dy="3.2" font-size="9">2</tspan><tspan dy="0.0" font-size="9">s</tspan><tspan dy="-3.2">)</tspan><tspan dy="-8.2" font-size="9">2</tspan><tspan dy="8.2">(σ</tspan><tspan dy="-6.5" font-size="9" font-weight="bold">*</tspan><tspan dy="9.7" font-size="9">2</tspan><tspan dy="0.0" font-size="9">s</tspan><tspan dy="-3.2">)</tspan><tspan dy="-8.2" font-size="9">2</tspan></text>
<text x="763.00" y="725.90" font-size="16" font-family="'Liberation Serif','DejaVu Serif',serif" textLength="83.25" lengthAdjust="spacingAndGlyphs"><tspan dy="0.0">(σ</tspan><tspan dy="3.2" font-size="9">2</tspan><tspan dy="0.0" font-size="9" font-style="italic">p</tspan><tspan dy="-3.2">)</tspan><tspan dy="-8.2" font-size="9">2</tspan><tspan dy="8.2">(π</tspan><tspan dy="3.2" font-size="9">2</tspan><tspan dy="0.0" font-size="9" font-style="italic">p</tspan><tspan dy="-3.2">)</tspan><tspan dy="-8.2" font-size="9">4</tspan></text>
<text x="758.25" y="749.20" font-size="16" font-family="'Liberation Serif','DejaVu Serif',serif" textLength="93.00" lengthAdjust="spacingAndGlyphs"><tspan dy="0.0">(π</tspan><tspan dy="-6.5" font-size="9" font-weight="bold">*</tspan><tspan dy="9.7" font-size="9">2</tspan><tspan dy="0.0" font-size="9" font-style="italic">p</tspan><tspan dy="-3.2">)</tspan><tspan dy="-8.2" font-size="9">4</tspan><tspan dy="8.2">(σ</tspan><tspan dy="-6.5" font-size="9" font-weight="bold">*</tspan><tspan dy="9.7" font-size="9">2</tspan><tspan dy="0.0" font-size="9" font-style="italic">p</tspan><tspan dy="-3.2">)</tspan><tspan dy="-8.2" font-size="9">2</tspan></text>
</svg></body></html>
